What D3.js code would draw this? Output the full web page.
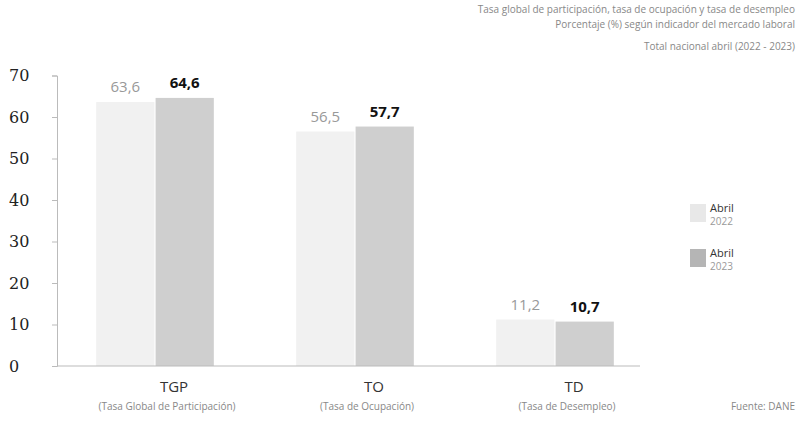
<!DOCTYPE html>
<html><head><meta charset="utf-8">
<script src="https://cdn.jsdelivr.net/npm/d3@7/dist/d3.min.js"></script>
<style>body{margin:0;background:#fff}svg{display:block;font-family:"Open Sans",sans-serif}</style>
</head><body><svg id="c" width="797" height="422"></svg>
<script>
const categories = ["TGP", "TO", "TD"];
const categoryNames = ["(Tasa Global de Participación)", "(Tasa de Ocupación)", "(Tasa de Desempleo)"];
const seriesNames = ["Abril 2022", "Abril 2023"];
const values2022 = [63.6, 56.5, 11.2];
const values2023 = [64.6, 57.7, 10.7];
const yTicks = [0, 10, 20, 30, 40, 50, 60, 70];
const titleLines = ["Tasa global de participación, tasa de ocupación y tasa de desempleo",
                    "Porcentaje (%) según indicador del mercado laboral",
                    "Total nacional abril (2022 - 2023)"];
const source = "Fuente: DANE";

const svg = d3.select("#c");
const x0 = d3.scaleBand().domain(categories).range([55, 655]).paddingInner(0.4).paddingOuter(0.2);
const x1 = d3.scaleBand().domain(seriesNames).range([0, x0.bandwidth()]).padding(0.02);
const y = d3.scaleLinear().domain([0, 70]).range([366, 75.5]);
const colors = ["#f1f1f1", "#cfcfcf"];
const series = [values2022, values2023];

// title
svg.append("g").selectAll("text").data(titleLines).join("text")
  .attr("x", 795).attr("y", (d, i) => [13, 28, 50][i]).attr("text-anchor", "end")
  .attr("font-size", 10).attr("fill", "#888").text(d => d);

// bars
series.forEach((vals, si) => {
  svg.append("g").selectAll("rect").data(categories).join("rect")
    .attr("x", c => x0(c) + x1(seriesNames[si]))
    .attr("width", x1.bandwidth())
    .attr("y", (c, i) => y(vals[i]))
    .attr("height", (c, i) => y(0) - y(vals[i]))
    .attr("fill", colors[si]);
  svg.append("g").selectAll("text").data(categories).join("text")
    .attr("x", c => x0(c) + x1(seriesNames[si]) + x1.bandwidth() / 2)
    .attr("y", (c, i) => y(vals[i]) - 10)
    .attr("text-anchor", "middle")
    .attr("font-size", 15)
    .attr("font-weight", si === 1 ? 700 : 400)
    .attr("fill", si === 1 ? "#111" : "#999")
    .text((c, i) => d3.format(".1f")(vals[i]).replace(".", ","));
});

// y axis
const yAxis = svg.append("g").attr("transform", "translate(57,0)")
  .call(d3.axisLeft(y).tickValues(yTicks).tickSize(5).tickPadding(18).tickFormat(d3.format("d")));
yAxis.select(".domain").attr("stroke", "#bbb");
yAxis.selectAll(".tick line").attr("stroke", "#bbb");
yAxis.selectAll("text").attr("font-size", 16).attr("fill", "#222").attr("font-weight", 300)
  .attr("font-family", "'DejaVu Serif', serif").attr("text-anchor", "start").attr("x", -48);

// x baseline
svg.append("line").attr("x1", 57).attr("x2", 640).attr("y1", y(0)).attr("y2", y(0)).attr("stroke", "#bbb");

// category labels
svg.append("g").selectAll("text").data(categories).join("text")
  .attr("x", c => x0(c) + x0.bandwidth() / 2 + 19).attr("y", 392)
  .attr("text-anchor", "middle").attr("font-size", 15).attr("fill", "#333").text(d => d);
svg.append("g").selectAll("text").data(categories).join("text")
  .attr("x", c => x0(c) + x0.bandwidth() / 2 + 12).attr("y", 410)
  .attr("text-anchor", "middle").attr("font-size", 10).attr("fill", "#888")
  .text((d, i) => categoryNames[i]);
svg.append("text").attr("x", 795).attr("y", 410).attr("text-anchor", "end")
  .attr("font-size", 10).attr("fill", "#888").text(source);

// legend
const lg = svg.append("g").attr("transform", "translate(690,200)");
seriesNames.forEach((s, i) => {
  const g = lg.append("g").attr("transform", `translate(0,${i * 45})`);
  g.append("rect").attr("x", 0).attr("y", 4).attr("width", 16).attr("height", 18).attr("fill", i === 1 ? "#b5b5b5" : "#e8e8e8");
  const parts = s.split(" ");
  g.append("text").attr("x", 20).attr("y", 12).attr("font-size", 11).attr("fill", "#333").text(parts[0]);
  g.append("text").attr("x", 20).attr("y", 25).attr("font-size", 10).attr("fill", "#999").text(parts[1]);
});
</script></body></html>
